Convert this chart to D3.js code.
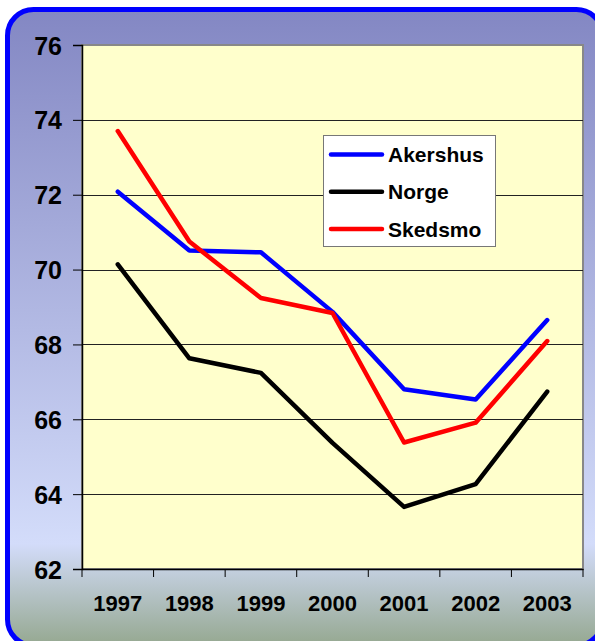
<!DOCTYPE html>
<html>
<head>
<meta charset="utf-8">
<script src="https://cdn.jsdelivr.net/npm/d3@7"></script>
<style>
  body { margin: 0; background: #fff; }
  svg text { font-family: "Liberation Sans", Arial, sans-serif; font-weight: bold; fill: #000; }
</style>
</head>
<body>
<div id="chart"></div>
<script>
const width = 595;
const height = 641;

const years = ["1997", "1998", "1999", "2000", "2001", "2002", "2003"];
const akershus = [72.08, 70.51, 70.46, 68.87, 66.80, 66.53, 68.65];
const norge = [70.14, 67.63, 67.24, 65.37, 63.66, 64.27, 66.74];
const skedsmo = [73.70, 70.75, 69.24, 68.84, 65.38, 65.91, 68.09];
const yTicks = [62, 64, 66, 68, 70, 72, 74, 76];

const series = [
  { name: "Akershus", values: akershus, color: "#0000ff" },
  { name: "Norge", values: norge, color: "#000000" },
  { name: "Skedsmo", values: skedsmo, color: "#ff0000" }
];

const plot = { left: 82, right: 583, top: 45, bottom: 569 };

const svg = d3.select("#chart")
  .append("svg")
  .attr("width", width)
  .attr("height", height);

// background gradient
const defs = svg.append("defs");
const grad = defs.append("linearGradient")
  .attr("id", "bg")
  .attr("x1", 0).attr("y1", 0).attr("x2", 0).attr("y2", 1);
grad.append("stop").attr("offset", "0%").attr("stop-color", "#8387c3");
grad.append("stop").attr("offset", "84%").attr("stop-color", "#d3dcfa");
grad.append("stop").attr("offset", "100%").attr("stop-color", "#95a890");

svg.append("rect")
  .attr("x", 7.5).attr("y", 9.5)
  .attr("width", 595).attr("height", 636)
  .attr("rx", 26).attr("ry", 26)
  .attr("fill", "url(#bg)")
  .attr("stroke", "#0000ff")
  .attr("stroke-width", 5);

const x = d3.scaleBand()
  .domain(years)
  .range([plot.left, plot.right]);

const y = d3.scaleLinear()
  .domain([62, 76])
  .range([plot.bottom, plot.top]);

// plot area
svg.append("rect")
  .attr("x", plot.left).attr("y", plot.top)
  .attr("width", plot.right - plot.left)
  .attr("height", plot.bottom - plot.top)
  .attr("fill", "#ffffcc")
  .attr("stroke", "#888")
  .attr("stroke-width", 2);

// gridlines
svg.append("g")
  .selectAll("line")
  .data(yTicks.filter(d => d > 62 && d < 76))
  .join("line")
  .attr("x1", plot.left).attr("x2", plot.right)
  .attr("y1", d => Math.round(y(d)) + 0.5).attr("y2", d => Math.round(y(d)) + 0.5)
  .attr("stroke", "#222")
  .attr("stroke-width", 1);

// y axis
const yAxis = svg.append("g")
  .attr("transform", `translate(${plot.left},0)`)
  .call(d3.axisLeft(y).tickValues(yTicks).tickSize(9).tickPadding(11).tickFormat(d3.format("d")));
yAxis.select(".domain").attr("stroke", "#000").attr("stroke-width", 1.5);
yAxis.selectAll(".tick line").attr("stroke", "#000");
yAxis.selectAll(".tick text")
  .attr("font-size", 25)
  .attr("dy", "0.36em");

// x axis
const xAxis = svg.append("g")
  .attr("transform", `translate(0,${plot.bottom})`)
  .call(d3.axisBottom(x).tickSize(0).tickPadding(0));
xAxis.select(".domain").attr("stroke", "#000").attr("stroke-width", 1.5);
xAxis.selectAll(".tick text")
  .attr("font-size", 22)
  .attr("y", 42)
  .attr("dy", 0);
xAxis.selectAll(".boundary")
  .data(years.concat(["end"]))
  .join("line")
  .attr("class", "boundary")
  .attr("x1", (d, i) => i < years.length ? x(d) : plot.right)
  .attr("x2", (d, i) => i < years.length ? x(d) : plot.right)
  .attr("y1", 0).attr("y2", 8)
  .attr("stroke", "#000");

// lines
const line = d3.line()
  .x((d, i) => x(years[i]) + x.bandwidth() / 2)
  .y(d => y(d));

svg.append("g")
  .selectAll("path")
  .data(series)
  .join("path")
  .attr("d", d => line(d.values))
  .attr("fill", "none")
  .attr("stroke", d => d.color)
  .attr("stroke-width", 4.5)
  .attr("stroke-linejoin", "round")
  .attr("stroke-linecap", "round");

// legend
const legend = svg.append("g");
legend.append("rect")
  .attr("x", 323.5).attr("y", 135.5)
  .attr("width", 172).attr("height", 111)
  .attr("fill", "#fff")
  .attr("stroke", "#777")
  .attr("stroke-width", 1);

const rows = legend.selectAll("g.row")
  .data(series)
  .join("g")
  .attr("class", "row")
  .attr("transform", (d, i) => `translate(0,${154.5 + i * 37.3})`);
rows.append("line")
  .attr("x1", 331).attr("x2", 382)
  .attr("stroke", d => d.color)
  .attr("stroke-width", 4.5)
  .attr("stroke-linecap", "round");
rows.append("text")
  .attr("x", 388)
  .attr("y", 7.5)
  .attr("font-size", 21)
  .text(d => d.name);
</script>
</body>
</html>
